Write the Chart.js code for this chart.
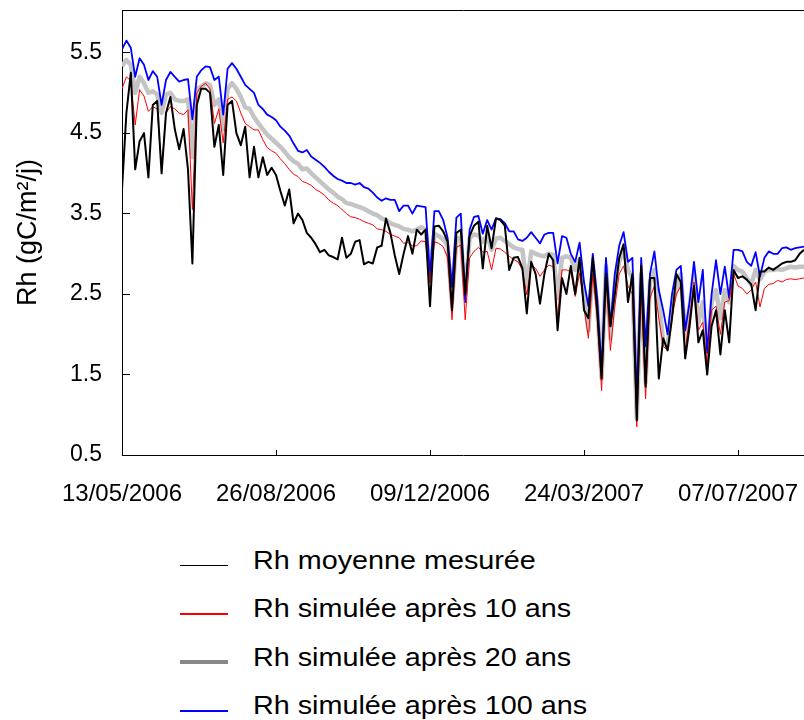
<!DOCTYPE html>
<html lang="fr">
<head>
<meta charset="UTF-8">
<title>Rh mesurée et simulée</title>
<script src="https://cdn.jsdelivr.net/npm/chart.js@4.4.1/dist/chart.umd.min.js"></script>
<style>
  body { margin: 0; background: #fff; font-family: "Liberation Sans", Arial, sans-serif; }
  #wrap { position: relative; width: 804px; height: 720px; overflow: hidden; }
  #chart-box { position: absolute; left: 0; top: 0; width: 804px; height: 520px; }
  #legend { position: absolute; left: 180px; top: 536px; margin: 0; padding: 0; list-style: none; }
  #legend li { display: flex; align-items: center; height: 48.5px; }
  #legend .swatch { width: 48px; margin-right: 25px; position: relative; top: 5px; }
  #legend .txt { font-size: 25px; color: #000; white-space: nowrap; transform: scaleX(1.15); transform-origin: left center; }
</style>
</head>
<body>
<div id="wrap">
  <div id="chart-box"><canvas id="rh-chart"></canvas></div>
  <ul id="legend"></ul>
</div>

<script>
  // one value every 3 days starting 13/05/2006
  const STEP_DAYS = 3;

  const tickDays = [0, 105, 210, 315, 420];
  const tickLabels = ['13/05/2006', '26/08/2006', '09/12/2006', '24/03/2007', '07/07/2007'];
  const yTicks = [0.5, 1.5, 2.5, 3.5, 4.5, 5.5];

  const seriesLabels = [
    'Rh moyenne mesurée',
    'Rh simulée après 10 ans',
    'Rh simulée après 20 ans',
    'Rh simulée après 100 ans'
  ];

  const measured = [
    3.80, 4.75, 5.25, 4.05, 4.40, 4.50, 3.95, 4.85, 4.90, 4.00, 4.75, 4.95, 4.55, 4.30, 4.55, 4.05,
    2.88, 4.85, 5.05, 5.05, 5.00, 4.33, 4.60, 3.98, 4.85, 4.90, 4.50, 4.35, 4.58, 3.95, 4.33, 3.95,
    4.20, 3.98, 4.07, 3.98, 3.78, 3.60, 3.80, 3.38, 3.50, 3.42, 3.26, 3.20, 3.12, 3.02, 3.05, 2.98,
    2.96, 2.93, 3.20, 2.95, 3.00, 3.15, 3.17, 2.87, 2.90, 2.88, 3.08, 3.10, 3.44, 3.26, 2.98, 2.75,
    3.00, 3.22, 3.00, 3.30, 3.24, 3.30, 2.35, 3.34, 3.35, 3.28, 3.15, 2.30, 3.26, 3.30, 2.50, 3.22,
    3.35, 3.40, 2.82, 3.35, 3.07, 3.44, 3.42, 3.35, 2.80, 2.95, 2.96, 2.82, 2.26, 2.90, 2.75, 2.38,
    2.75, 3.00, 2.92, 2.05, 2.70, 2.50, 2.85, 2.50, 2.95, 2.30, 2.20, 2.95, 2.30, 1.45, 2.75, 2.10,
    2.50, 2.95, 3.12, 2.40, 2.75, 0.93, 2.85, 1.35, 2.70, 2.70, 1.45, 1.95, 1.80, 2.20, 2.75, 2.65,
    1.70, 2.10, 2.60, 1.90, 2.05, 1.50, 2.10, 2.30, 1.75, 2.30, 1.90, 2.80, 2.70, 2.72, 2.68, 2.62,
    2.30, 2.78, 2.78, 2.83, 2.80, 2.84, 2.88, 2.90, 2.90, 2.92, 3.00, 3.05
  ];

  const sim10 = [
    5.05, 5.20, 5.15, 4.60, 5.04, 4.96, 4.77, 4.83, 4.80, 4.05, 4.75, 4.83, 4.80, 4.75, 4.73, 4.79,
    3.55, 5.00, 5.08, 5.12, 5.05, 4.62, 4.80, 4.38, 4.92, 4.95, 4.90, 4.75, 4.62, 4.58, 4.54, 4.54,
    4.42, 4.32, 4.28, 4.25, 4.18, 4.12, 4.05, 3.99, 3.96, 3.90, 3.88, 3.85, 3.80, 3.77, 3.73, 3.67,
    3.63, 3.60, 3.55, 3.50, 3.46, 3.45, 3.43, 3.40, 3.38, 3.36, 3.31, 3.30, 3.28, 3.24, 3.22, 3.20,
    3.13, 3.14, 3.10, 3.10, 3.16, 3.15, 2.64, 3.15, 3.13, 3.09, 2.95, 2.18, 3.08, 3.11, 2.18, 2.95,
    3.03, 3.08, 3.02, 3.03, 2.80, 3.07, 3.06, 3.02, 2.97, 2.93, 2.90, 2.80, 2.49, 2.86, 2.82, 2.72,
    2.80, 2.86, 2.84, 2.22, 2.80, 2.80, 2.78, 2.47, 2.76, 2.34, 1.95, 2.75, 2.20, 1.30, 2.70, 1.80,
    2.35, 2.75, 2.85, 2.60, 2.50, 0.85, 2.55, 1.20, 2.45, 2.60, 2.20, 1.85, 1.80, 2.20, 2.50, 2.60,
    1.80, 2.20, 2.65, 2.05, 2.15, 1.62, 2.30, 2.35, 2.00, 2.40, 2.42, 2.75, 2.60, 2.57, 2.50, 2.55,
    2.65, 2.34, 2.57, 2.62, 2.63, 2.67, 2.65, 2.68, 2.69, 2.68, 2.69, 2.70
  ];

  const sim20 = [
    5.33, 5.41, 5.35, 5.00, 5.20, 5.12, 5.00, 5.02, 4.98, 4.75, 4.98, 5.00, 4.92, 4.90, 4.90, 4.92,
    4.20, 5.05, 5.08, 5.12, 5.10, 4.85, 4.92, 4.55, 5.05, 5.12, 5.05, 4.95, 4.82, 4.80, 4.70, 4.62,
    4.55, 4.48, 4.43, 4.38, 4.33, 4.27, 4.20, 4.15, 4.12, 4.05, 4.06, 4.00, 3.95, 3.90, 3.85, 3.80,
    3.76, 3.71, 3.68, 3.63, 3.62, 3.60, 3.58, 3.56, 3.53, 3.50, 3.48, 3.44, 3.42, 3.38, 3.36, 3.34,
    3.31, 3.30, 3.28, 3.30, 3.33, 3.30, 2.80, 3.25, 3.22, 3.18, 3.10, 2.40, 3.18, 3.20, 2.50, 3.20,
    3.24, 3.23, 3.15, 3.22, 3.05, 3.19, 3.20, 3.16, 3.12, 3.08, 3.06, 3.05, 2.60, 3.03, 3.00, 2.98,
    2.97, 3.00, 2.99, 2.45, 2.95, 2.97, 2.95, 2.80, 2.93, 2.50, 2.05, 2.85, 2.35, 1.45, 2.85, 1.95,
    2.60, 2.90, 3.05, 2.80, 2.70, 0.95, 2.75, 1.40, 2.65, 2.80, 2.45, 1.90, 1.85, 2.35, 2.55, 2.75,
    1.95, 2.35, 2.75, 2.15, 2.40, 1.75, 2.40, 2.55, 2.20, 2.55, 2.40, 2.85, 2.80, 2.78, 2.70, 2.62,
    2.80, 2.68, 2.78, 2.80, 2.80, 2.81, 2.80, 2.82, 2.84, 2.83, 2.84, 2.84
  ];

  const sim100 = [
    5.54, 5.65, 5.56, 5.20, 5.43, 5.35, 5.16, 5.27, 5.20, 4.85, 5.16, 5.26, 5.20, 5.14, 5.16, 5.17,
    4.67, 5.20, 5.28, 5.33, 5.32, 5.16, 5.20, 4.73, 5.30, 5.37, 5.30, 5.20, 5.10, 5.05, 5.00, 4.85,
    4.80, 4.73, 4.70, 4.66, 4.58, 4.53, 4.47, 4.37, 4.28, 4.26, 4.29, 4.21, 4.17, 4.13, 4.08, 4.02,
    3.97, 3.93, 3.91, 3.88, 3.88, 3.86, 3.88, 3.83, 3.81, 3.76, 3.70, 3.66, 3.69, 3.67, 3.67, 3.53,
    3.60, 3.60, 3.50, 3.60, 3.59, 3.58, 2.72, 3.53, 3.53, 3.42, 3.20, 2.59, 3.45, 3.50, 2.40, 3.30,
    3.46, 3.47, 3.25, 3.42, 3.30, 3.44, 3.43, 3.38, 3.28, 3.28, 3.18, 3.16, 3.20, 3.27, 3.20, 3.13,
    3.24, 3.26, 3.26, 2.88, 3.22, 3.20, 3.00, 2.90, 3.14, 2.65, 2.35, 3.00, 2.45, 1.55, 2.95, 2.10,
    2.75, 3.10, 3.27, 2.90, 2.95, 1.18, 2.95, 1.85, 2.75, 3.03, 2.55, 2.30, 2.00, 2.50, 2.80, 2.85,
    2.05, 2.40, 2.90, 2.40, 2.80, 1.77, 2.50, 2.92, 2.50, 2.84, 2.45, 3.05, 3.05, 3.03, 2.90, 2.85,
    3.02, 2.72, 2.95, 3.03, 3.00, 3.00, 3.07, 3.08, 3.05, 3.07, 3.08, 3.09
  ];

  const days = measured.map((v, i) => i * STEP_DAYS);

  Chart.defaults.font.family = '"Liberation Sans", Arial, sans-serif';
  Chart.defaults.color = '#000';

  // keep the plot box fixed: no extra room for overhanging tick labels
  function noPadding(s) {
    s.paddingTop = 0;
    s.paddingBottom = 0;
    s.paddingLeft = 0;
    s.paddingRight = 0;
  }

  const ctx = document.getElementById('rh-chart').getContext('2d');
  const chart = new Chart(ctx, {
    type: 'line',
    data: {
      labels: days,
      datasets: [
        { label: seriesLabels[0], data: measured, borderColor: '#000000', borderWidth: 2, order: 0 },
        { label: seriesLabels[1], data: sim10, borderColor: '#ff0000', borderWidth: 1, order: 1 },
        { label: seriesLabels[2], data: sim20, borderColor: '#c4c4c4', borderWidth: 4.5, order: 3 },
        { label: seriesLabels[3], data: sim100, borderColor: '#0000ff', borderWidth: 1.8, order: 2 }
      ]
    },
    options: {
      responsive: true,
      maintainAspectRatio: false,
      animation: false,
      layout: { padding: { top: 10, right: 0, bottom: 0, left: 0 } },
      elements: {
        point: { radius: 0 },
        line: { tension: 0, borderJoinStyle: 'round' }
      },
      plugins: {
        legend: { display: false },
        tooltip: { enabled: false }
      },
      scales: {
        x: {
          type: 'linear',
          min: 0,
          max: 465,
          afterBuildTicks: s => { s.ticks = tickDays.map(v => ({ value: v })); },
          afterFit: s => { s.height = 65; noPadding(s); },
          border: { color: '#000', width: 1 },
          grid: { drawOnChartArea: false, tickLength: -5, color: '#000' },
          ticks: {
            autoSkip: false,
            maxRotation: 0,
            padding: 30,
            font: { size: 24 },
            callback: (v, i) => tickLabels[i]
          }
        },
        xTop: {
          type: 'linear',
          position: 'top',
          min: 0,
          max: 465,
          afterFit: s => { s.height = 0; noPadding(s); },
          border: { display: true, color: '#000', width: 1 },
          grid: { drawOnChartArea: false, drawTicks: false },
          ticks: { display: false }
        },
        y: {
          min: 0.5,
          max: 6.03,
          afterBuildTicks: s => { s.ticks = yTicks.map(v => ({ value: v })); },
          afterFit: s => { s.width = 122; noPadding(s); },
          border: { color: '#000', width: 1 },
          grid: { drawOnChartArea: false, tickLength: -8, color: '#000' },
          ticks: {
            padding: 28,
            font: { size: 23 },
            callback: v => v.toFixed(1)
          },
          title: {
            display: true,
            text: 'Rh (gC/m²/j)',
            font: { size: 27 },
            padding: 12
          }
        }
      }
    }
  });

  // legend: one item per row under the plot, as in the original figure
  const legendLines = { 2: { color: '#888888', width: 4 } };
  const legendEl = document.getElementById('legend');
  chart.data.datasets.forEach((ds, i) => {
    const li = document.createElement('li');
    const sw = document.createElement('span');
    sw.className = 'swatch';
    const look = legendLines[i] || { color: ds.borderColor, width: 1.5 };
    sw.style.height = look.width + 'px';
    sw.style.background = look.color;
    const txt = document.createElement('span');
    txt.className = 'txt';
    txt.textContent = ds.label;
    li.appendChild(sw);
    li.appendChild(txt);
    legendEl.appendChild(li);
  });
</script>
</body>
</html>
